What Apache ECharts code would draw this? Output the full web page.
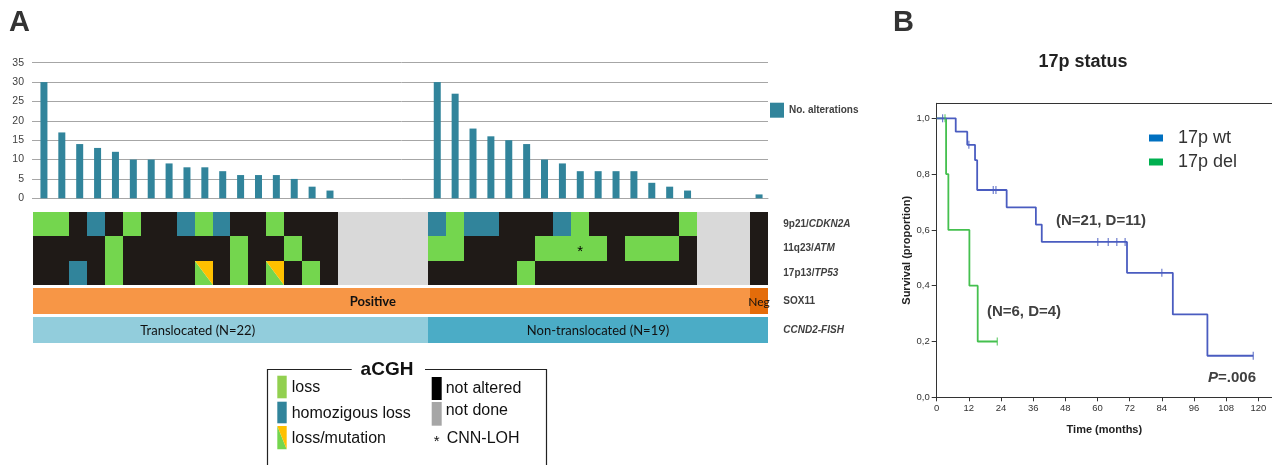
<!DOCTYPE html>
<html>
<head>
<meta charset="utf-8">
<script src="https://cdn.jsdelivr.net/npm/echarts@6/dist/echarts.min.js"></script>
<style>
  html, body { margin: 0; padding: 0; background: #fff; }
  #chart { width: 1272px; height: 465px; }
</style>
</head>
<body>
<div id="chart"></div>
<script>
// ---- Panel A: genomic alterations per sample (22 translocated, 19 non-translocated) ----
const sampleIds = Array.from({ length: 41 }, (_, i) => 'MCL' + (i + 1));
const alterationCounts = [
  30, 17, 14, 13, 12, 10, 10, 9, 8, 8, 7, 6, 6, 6, 5, 3, 2, 0, 0, 0, 0, 0,
  30, 27, 18, 16, 15, 14, 10, 9, 7, 7, 7, 7, 4, 3, 2, 0, 0, 0, 1
];

// Loci shown in the aCGH grid
const locusNames = ['9p21/CDKN2A', '11q23/ATM', '17p13/TP53'];
// Status codes: L loss, H homozygous loss, M loss/mutation, N not altered, X not done, C CNN-LOH
const cdkn2aStatus = 'LLNHNLNNHLHNNLNNNXXXXX' + 'HLHHNNNHLNNNNNLXXXN';
const atmStatus    = 'NNNNLNNNNNNLNNLNNXXXXX' + 'LLNNNNLLCLNLLLNXXXN';
const tp53Status   = 'NNHNLNNNNMNLNMNLNXXXXX' + 'NNNNNLNNNNNNNNNXXXN';

// SOX11 expression and CCND2 FISH groups (consecutive samples)
const sox11Labels = ['Positive', 'Neg'];
const sox11Counts = [40, 1];
const ccnd2Labels = ['Translocated (N=22)', 'Non-translocated (N=19)'];
const ccnd2Counts = [22, 19];

// ---- Panel B: Kaplan-Meier survival by 17p status ----
const wtTimes = [0, 7.1, 11.4, 14.3, 15.1, 26.1, 37.0, 39.2, 71.0, 88.1, 101.0, 118.1];
const wtSurvival = [1, 0.952, 0.905, 0.85, 0.743, 0.681, 0.619, 0.557, 0.446, 0.297, 0.149, 0.149];
const wtCensored = [2.2, 12.0, 21.1, 22.1, 60.1, 64.0, 67.2, 70.3, 84.0, 118.1];
const delTimes = [0, 3.5, 4.35, 12.2, 15.3, 22.6];
const delSurvival = [1, 0.8, 0.6, 0.4, 0.2, 0.2];
const delCensored = [3.1, 22.6];
const timeTicks = [0, 12, 24, 36, 48, 60, 72, 84, 96, 108, 120];
const survivalTicks = [0, 0.2, 0.4, 0.6, 0.8, 1.0];

// ---- derived tables ----
const statusRows = [cdkn2aStatus, atmStatus, tp53Status];
const statusCells = [];
statusRows.forEach((row, r) => {
  row.split('').forEach((code, c) => statusCells.push([c, r, code]));
});

function segments(labels, counts) {
  const out = [];
  let start = 0;
  labels.forEach((lab, i) => {
    out.push([start, start + counts[i] - 1, lab]);
    start += counts[i];
  });
  return out;
}
const sox11Segments = segments(sox11Labels, sox11Counts);
const ccnd2Segments = segments(ccnd2Labels, ccnd2Counts);

function survivalAt(times, surv, t) {
  let s = surv[0];
  for (let i = 0; i < times.length; i++) if (times[i] <= t) s = surv[i];
  return s;
}
const wtCurve = wtTimes.map((t, i) => [t, wtSurvival[i]]);
const delCurve = delTimes.map((t, i) => [t, delSurvival[i]]);
const wtMarks = wtCensored.map(t => [t, survivalAt(wtTimes, wtSurvival, t)]);
const delMarks = delCensored.map(t => [t, survivalAt(delTimes, delSurvival, t)]);

// ---- colours ----
const C = {
  bar: '#31849b',
  loss: '#74d64e',
  homo: '#31849b',
  none: '#1f1a17',
  notDone: '#d9d9d9',
  mut: '#ffc000',
  sox11Pos: '#f79646',
  sox11Neg: '#e46c0a',
  transl: '#92cddc',
  nonTransl: '#4bacc6',
  wt: '#4a5cc0',
  del: '#45c04f'
};
const statusFill = { L: C.loss, H: C.homo, N: C.none, X: C.notDone, C: C.loss };
const FONT = '"Liberation Sans", Arial, sans-serif';

// cell edges snapped to whole pixels so neighbouring cells join without seams
function renderStatus(params, api) {
  const p = api.coord([api.value(0), api.value(1)]);
  const sz = api.size([1, 1]);
  const x0 = Math.round(p[0] - sz[0] / 2), x1 = Math.round(p[0] + sz[0] / 2);
  const y0 = Math.round(p[1] - sz[1] / 2), y1 = Math.round(p[1] + sz[1] / 2);
  const w = x1 - x0, h = y1 - y0;
  const code = statusCells[params.dataIndex][2];
  if (code === 'M') {
    return {
      type: 'group',
      children: [
        { type: 'polygon', shape: { points: [[x0, y0], [x1, y1], [x0, y1]] }, style: { fill: C.loss } },
        { type: 'polygon', shape: { points: [[x0, y0], [x1, y0], [x1, y1]] }, style: { fill: C.mut } }
      ]
    };
  }
  const children = [{ type: 'rect', shape: { x: x0, y: y0, width: w, height: h }, style: { fill: statusFill[code] } }];
  if (code === 'C') {
    children.push({
      type: 'text',
      style: { x: p[0], y: p[1] + 3, text: '*', font: '15px ' + FONT, fill: '#000', textAlign: 'center', textVerticalAlign: 'middle' }
    });
  }
  return { type: 'group', children };
}

function makeSegmentRenderer(segs, fills, anchors, fonts) {
  return function (params, api) {
    const seg = segs[params.dataIndex];
    const a = api.coord([seg[0], 0]);
    const b = api.coord([seg[1], 0]);
    const sz = api.size([1, 1]);
    const x0 = Math.round(a[0] - sz[0] / 2), x1 = Math.round(b[0] + sz[0] / 2);
    const y0 = Math.round(a[1] - sz[1] / 2), y1 = Math.round(a[1] + sz[1] / 2);
    const anchor = anchors[seg[2]] !== undefined ? anchors[seg[2]] : 0.5;
    return {
      type: 'group',
      children: [
        { type: 'rect', shape: { x: x0, y: y0, width: x1 - x0, height: y1 - y0 }, style: { fill: fills[params.dataIndex] } },
        {
          type: 'text',
          style: {
            x: x0 + (x1 - x0) * anchor, y: a[1] + 0.5, text: seg[2],
            font: fonts[params.dataIndex], fill: '#111',
            textAlign: 'center', textVerticalAlign: 'middle'
          }
        }
      ]
    };
  };
}

const hiddenCat = (grid) => ({
  type: 'category', gridIndex: grid, data: sampleIds,
  axisLine: { show: false }, axisTick: { show: false }, axisLabel: { show: false }, splitLine: { show: false }
});

const rightLabel = {
  fontFamily: FONT, fontSize: 10, fontWeight: 'bold', color: '#404040', margin: 15
};

const chart = echarts.init(document.getElementById('chart'), null, { renderer: 'canvas' });

const option = {
  animation: false,
  textStyle: { fontFamily: FONT },
  grid: [
    { left: 35, top: 62.7, width: 733, height: 135.6 },
    { left: 33.3, top: 211.7, width: 735, height: 73.5 },
    { left: 33.3, top: 288.3, width: 735, height: 25.7 },
    { left: 33.3, top: 317.3, width: 735, height: 26 },
    { left: 936.7, top: 103.3, width: 335.3, height: 294 }
  ],
  xAxis: [
    {
      type: 'category', gridIndex: 0, data: sampleIds,
      axisLine: { lineStyle: { color: '#a6a6a6', width: 1 } },
      axisTick: { length: 5, lineStyle: { color: '#a6a6a6' } },
      axisLabel: { show: false }
    },
    hiddenCat(1), hiddenCat(2), hiddenCat(3),
    {
      type: 'value', gridIndex: 4, min: 0, max: 125.1, interval: 12,
      name: 'Time (months)', nameLocation: 'middle', nameGap: 27,
      nameTextStyle: { fontSize: 11, fontWeight: 'bold', color: '#222', fontFamily: FONT },
      axisLine: { lineStyle: { color: '#333', width: 1 } },
      axisTick: { length: 4, customValues: timeTicks, lineStyle: { color: '#333' } },
      axisLabel: { customValues: timeTicks, fontSize: 9.5, color: '#333', margin: 6 },
      splitLine: { show: false }
    },
    {
      // top edge of the survival frame
      type: 'value', gridIndex: 4, position: 'top', min: 0, max: 125.1,
      axisLine: { lineStyle: { color: '#333', width: 1 } },
      axisTick: { show: false }, axisLabel: { show: false }, splitLine: { show: false }
    }
  ],
  yAxis: [
    {
      type: 'value', gridIndex: 0, min: 0, max: 35, interval: 5,
      axisLine: { show: false },
      axisTick: { show: true, length: 3, lineStyle: { color: '#a6a6a6' } },
      axisLabel: { fontSize: 10.5, color: '#404040', margin: 11 },
      splitLine: { lineStyle: { color: '#a6a6a6', width: 1 } }
    },
    {
      type: 'category', gridIndex: 1, data: locusNames, inverse: true, position: 'right',
      axisLine: { show: false }, axisTick: { show: false },
      axisLabel: Object.assign({}, rightLabel, {
        formatter: v => {
          const parts = v.split('/');
          return '{n|' + parts[0] + '/}{i|' + parts[1] + '}';
        },
        rich: {
          n: { fontSize: 10, fontWeight: 'bold', color: '#404040', fontFamily: FONT },
          i: { fontSize: 10, fontWeight: 'bold', fontStyle: 'italic', color: '#404040', fontFamily: FONT }
        }
      })
    },
    {
      type: 'category', gridIndex: 2, data: ['SOX11'], position: 'right',
      axisLine: { show: false }, axisTick: { show: false }, axisLabel: rightLabel
    },
    {
      type: 'category', gridIndex: 3, data: ['CCND2-FISH'], position: 'right',
      axisLine: { show: false }, axisTick: { show: false },
      axisLabel: Object.assign({}, rightLabel, { fontStyle: 'italic' })
    },
    {
      type: 'value', gridIndex: 4, min: 0, max: 1.0538, interval: 0.2,
      name: 'Survival (proportion)', nameLocation: 'middle', nameGap: 22, nameRotate: 90,
      nameTextStyle: { fontSize: 11, fontWeight: 'bold', color: '#222', fontFamily: FONT },
      axisLine: { lineStyle: { color: '#333', width: 1 } },
      axisTick: { length: 5, customValues: survivalTicks, lineStyle: { color: '#333' } },
      axisLabel: {
        customValues: survivalTicks, fontSize: 9.5, color: '#333', margin: 7,
        formatter: v => v.toFixed(1).replace('.', ',')
      },
      splitLine: { show: false }
    }
  ],
  legend: [
    {
      data: ['No. alterations'], left: 765, top: 97.7,
      icon: 'rect', itemWidth: 14, itemHeight: 15,
      textStyle: { fontSize: 10, fontWeight: 'bold', color: '#404040', fontFamily: FONT }
    },
    {
      data: [
        { name: '17p wt', itemStyle: { color: '#0070c0' } },
        { name: '17p del', itemStyle: { color: '#00b050' } }
      ],
      orient: 'vertical', left: 1144, top: 124, itemGap: 6,
      icon: 'rect', itemWidth: 14, itemHeight: 7,
      textStyle: { fontSize: 18, color: '#333', fontFamily: FONT, padding: [0, 0, 0, 10] }
    }
  ],
  series: [
    {
      name: 'No. alterations', type: 'bar', xAxisIndex: 0, yAxisIndex: 0,
      data: alterationCounts, barWidth: 7, itemStyle: { color: C.bar }
    },
    {
      name: 'aCGH', type: 'custom', xAxisIndex: 1, yAxisIndex: 1,
      data: statusCells.map(d => [d[0], d[1]]), renderItem: renderStatus
    },
    {
      name: 'SOX11', type: 'custom', xAxisIndex: 2, yAxisIndex: 2,
      data: sox11Segments.map(s => [s[0], 0]),
      renderItem: makeSegmentRenderer(sox11Segments, [C.sox11Pos, C.sox11Neg],
        { 'Positive': 0.474 },
        ['bold 13px Lato, "Open Sans", sans-serif', '12px Lato, "Open Sans", sans-serif'])
    },
    {
      name: 'CCND2', type: 'custom', xAxisIndex: 3, yAxisIndex: 3,
      data: ccnd2Segments.map(s => [s[0], 0]),
      renderItem: makeSegmentRenderer(ccnd2Segments, [C.transl, C.nonTransl],
        { 'Translocated (N=22)': 0.417 },
        ['13px Lato, "Open Sans", sans-serif', '13px Lato, "Open Sans", sans-serif'])
    },
    {
      name: '17p del', type: 'line', xAxisIndex: 4, yAxisIndex: 4, step: 'end',
      data: delCurve, symbol: 'none', lineStyle: { color: C.del, width: 1.8 }, itemStyle: { color: C.del }, z: 3
    },
    {
      name: '17p wt', type: 'line', xAxisIndex: 4, yAxisIndex: 4, step: 'end',
      data: wtCurve, symbol: 'none', lineStyle: { color: C.wt, width: 1.8 }, itemStyle: { color: C.wt }, z: 4
    },
    {
      name: 'del censored', type: 'scatter', xAxisIndex: 4, yAxisIndex: 4,
      data: delMarks, symbol: 'rect', symbolSize: [1.2, 8], itemStyle: { color: C.del }, z: 5
    },
    {
      name: 'wt censored', type: 'scatter', xAxisIndex: 4, yAxisIndex: 4,
      data: wtMarks, symbol: 'rect', symbolSize: [1.2, 8], itemStyle: { color: C.wt }, z: 6
    }
  ],
  graphic: [
    // panel letters and title
    { type: 'text', style: { x: 9, y: 23, text: 'A', font: 'bold 29px ' + FONT, fill: '#333', textVerticalAlign: 'middle' } },
    { type: 'text', style: { x: 893, y: 23, text: 'B', font: 'bold 29px ' + FONT, fill: '#333', textVerticalAlign: 'middle' } },
    { type: 'text', style: { x: 1083, y: 62, text: '17p status', font: 'bold 18px ' + FONT, fill: '#222', textAlign: 'center', textVerticalAlign: 'middle' } },
    // survival annotations
    { type: 'text', style: { x: 1101, y: 221, text: '(N=21, D=11)', font: 'bold 15px ' + FONT, fill: '#404040', textAlign: 'center', textVerticalAlign: 'middle' } },
    { type: 'text', style: { x: 1024, y: 312, text: '(N=6, D=4)', font: 'bold 15px ' + FONT, fill: '#404040', textAlign: 'center', textVerticalAlign: 'middle' } },
    {
      type: 'text',
      style: {
        x: 1256, y: 378, text: '{p|P}{v|=.006}', textAlign: 'right', textVerticalAlign: 'middle',
        rich: {
          p: { font: 'italic bold 15px ' + FONT, fill: '#404040' },
          v: { font: 'bold 15px ' + FONT, fill: '#404040' }
        }
      }
    },
    // aCGH key
    { type: 'polyline', shape: { points: [[351.7, 369.5], [267.5, 369.5], [267.5, 470]] }, style: { stroke: '#222', lineWidth: 1.2, fill: null } },
    { type: 'polyline', shape: { points: [[425, 369.5], [546.5, 369.5], [546.5, 470]] }, style: { stroke: '#222', lineWidth: 1.2, fill: null } },
    { type: 'text', style: { x: 387, y: 370, text: 'aCGH', font: 'bold 19px ' + FONT, fill: '#111', textAlign: 'center', textVerticalAlign: 'middle' } },
    { type: 'rect', shape: { x: 277.3, y: 375.7, width: 9.4, height: 22.6 }, style: { fill: '#92d050' } },
    { type: 'rect', shape: { x: 277.3, y: 401.7, width: 9.4, height: 21.6 }, style: { fill: '#31849b' } },
    { type: 'polygon', shape: { points: [[277.3, 426], [286.7, 449.3], [277.3, 449.3]] }, style: { fill: '#74d64e' } },
    { type: 'polygon', shape: { points: [[277.3, 426], [286.7, 426], [286.7, 449.3]] }, style: { fill: '#ffc000' } },
    { type: 'rect', shape: { x: 431.7, y: 377, width: 10, height: 23 }, style: { fill: '#000' } },
    { type: 'rect', shape: { x: 431.7, y: 402, width: 10, height: 23.7 }, style: { fill: '#a6a6a6' } },
    { type: 'text', style: { x: 291.7, y: 388, text: 'loss', font: '16px ' + FONT, fill: '#111', textVerticalAlign: 'middle' } },
    { type: 'text', style: { x: 291.7, y: 413.3, text: 'homozigous loss', font: '16px ' + FONT, fill: '#111', textVerticalAlign: 'middle' } },
    { type: 'text', style: { x: 291.7, y: 438.3, text: 'loss/mutation', font: '16px ' + FONT, fill: '#111', textVerticalAlign: 'middle' } },
    { type: 'text', style: { x: 445.7, y: 389, text: 'not altered', font: '16px ' + FONT, fill: '#111', textVerticalAlign: 'middle' } },
    { type: 'text', style: { x: 445.7, y: 411, text: 'not done', font: '16px ' + FONT, fill: '#111', textVerticalAlign: 'middle' } },
    { type: 'text', style: { x: 436.7, y: 442, text: '*', font: '15px ' + FONT, fill: '#111', textAlign: 'center', textVerticalAlign: 'middle' } },
    { type: 'text', style: { x: 446.7, y: 438.3, text: 'CNN-LOH', font: '16px ' + FONT, fill: '#111', textVerticalAlign: 'middle' } }
  ]
};

chart.setOption(option);
</script>
</body>
</html>
